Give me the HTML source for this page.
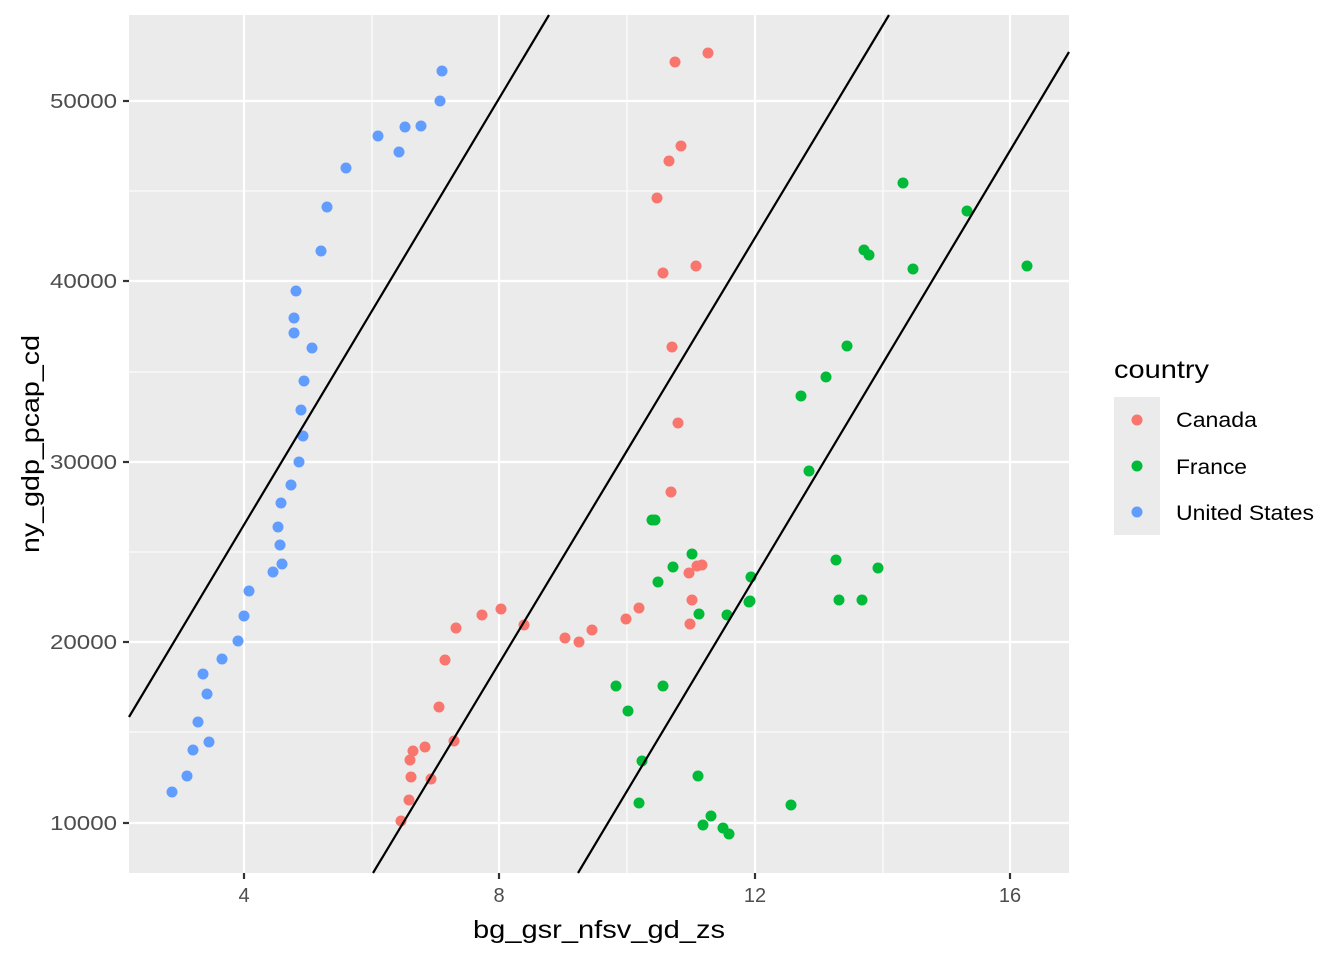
<!DOCTYPE html>
<html><head><style>body{margin:0;background:#fff}svg{display:block;font-family:"Liberation Sans",sans-serif}</style></head><body>
<svg width="1344" height="960" xmlns="http://www.w3.org/2000/svg">
<rect x="129" y="15" width="940" height="858" fill="#ebebeb"/>
<g stroke="#fff" stroke-width="1.1">
<line x1="372" y1="15" x2="372" y2="873"/><line x1="627" y1="15" x2="627" y2="873"/><line x1="883" y1="15" x2="883" y2="873"/>
<line x1="129" y1="732" x2="1069" y2="732"/><line x1="129" y1="552" x2="1069" y2="552"/><line x1="129" y1="372" x2="1069" y2="372"/><line x1="129" y1="191" x2="1069" y2="191"/>
</g>
<g stroke="#fff" stroke-width="2.2">
<line x1="244" y1="15" x2="244" y2="873"/><line x1="499" y1="15" x2="499" y2="873"/><line x1="755" y1="15" x2="755" y2="873"/><line x1="1010" y1="15" x2="1010" y2="873"/>
<line x1="129" y1="823" x2="1069" y2="823"/><line x1="129" y1="642" x2="1069" y2="642"/><line x1="129" y1="462" x2="1069" y2="462"/><line x1="129" y1="281" x2="1069" y2="281"/><line x1="129" y1="101" x2="1069" y2="101"/>
</g>
<g fill="#619cff">
<circle cx="172" cy="792" r="5.5"/><circle cx="187" cy="776" r="5.5"/><circle cx="193" cy="750" r="5.5"/><circle cx="198" cy="722" r="5.5"/><circle cx="209" cy="742" r="5.5"/><circle cx="207" cy="694" r="5.5"/><circle cx="203" cy="674" r="5.5"/><circle cx="222" cy="659" r="5.5"/><circle cx="238" cy="641" r="5.5"/><circle cx="244" cy="616" r="5.5"/><circle cx="249" cy="591" r="5.5"/><circle cx="273" cy="572" r="5.5"/><circle cx="282" cy="564" r="5.5"/><circle cx="280" cy="545" r="5.5"/><circle cx="278" cy="527" r="5.5"/><circle cx="281" cy="503" r="5.5"/><circle cx="291" cy="485" r="5.5"/><circle cx="299" cy="462" r="5.5"/><circle cx="303" cy="436" r="5.5"/><circle cx="301" cy="410" r="5.5"/><circle cx="304" cy="381" r="5.5"/><circle cx="312" cy="348" r="5.5"/><circle cx="294" cy="333" r="5.5"/><circle cx="294" cy="318" r="5.5"/><circle cx="296" cy="291" r="5.5"/><circle cx="321" cy="251" r="5.5"/><circle cx="327" cy="207" r="5.5"/><circle cx="346" cy="168" r="5.5"/><circle cx="378" cy="136" r="5.5"/><circle cx="399" cy="152" r="5.5"/><circle cx="405" cy="127" r="5.5"/><circle cx="421" cy="126" r="5.5"/><circle cx="440" cy="101" r="5.5"/><circle cx="442" cy="71" r="5.5"/>
</g>
<g fill="#f8766d">
<circle cx="401" cy="821" r="5.5"/><circle cx="409" cy="800" r="5.5"/><circle cx="431" cy="779" r="5.5"/><circle cx="411" cy="777" r="5.5"/><circle cx="410" cy="760" r="5.5"/><circle cx="413" cy="751" r="5.5"/><circle cx="425" cy="747" r="5.5"/><circle cx="454" cy="741" r="5.5"/><circle cx="439" cy="707" r="5.5"/><circle cx="445" cy="660" r="5.5"/><circle cx="456" cy="628" r="5.5"/><circle cx="482" cy="615" r="5.5"/><circle cx="501" cy="609" r="5.5"/><circle cx="524" cy="625" r="5.5"/><circle cx="565" cy="638" r="5.5"/><circle cx="579" cy="642" r="5.5"/><circle cx="592" cy="630" r="5.5"/><circle cx="626" cy="619" r="5.5"/><circle cx="639" cy="608" r="5.5"/><circle cx="690" cy="624" r="5.5"/><circle cx="692" cy="600" r="5.5"/><circle cx="689" cy="573" r="5.5"/><circle cx="697" cy="566" r="5.5"/><circle cx="702" cy="565" r="5.5"/><circle cx="671" cy="492" r="5.5"/><circle cx="678" cy="423" r="5.5"/><circle cx="672" cy="347" r="5.5"/><circle cx="663" cy="273" r="5.5"/><circle cx="696" cy="266" r="5.5"/><circle cx="657" cy="198" r="5.5"/><circle cx="669" cy="161" r="5.5"/><circle cx="681" cy="146" r="5.5"/><circle cx="675" cy="62" r="5.5"/><circle cx="708" cy="53" r="5.5"/>
</g>
<g fill="#00ba38">
<circle cx="729" cy="834" r="5.5"/><circle cx="723" cy="828" r="5.5"/><circle cx="703" cy="825" r="5.5"/><circle cx="711" cy="816" r="5.5"/><circle cx="639" cy="803" r="5.5"/><circle cx="698" cy="776" r="5.5"/><circle cx="791" cy="805" r="5.5"/><circle cx="642" cy="761" r="5.5"/><circle cx="628" cy="711" r="5.5"/><circle cx="616" cy="686" r="5.5"/><circle cx="663" cy="686" r="5.5"/><circle cx="699" cy="614" r="5.5"/><circle cx="727" cy="615" r="5.5"/><circle cx="749" cy="602" r="5.5"/><circle cx="750" cy="601" r="5.5"/><circle cx="839" cy="600" r="5.5"/><circle cx="862" cy="600" r="5.5"/><circle cx="751" cy="577" r="5.5"/><circle cx="836" cy="560" r="5.5"/><circle cx="878" cy="568" r="5.5"/><circle cx="692" cy="554" r="5.5"/><circle cx="673" cy="567" r="5.5"/><circle cx="658" cy="582" r="5.5"/><circle cx="652" cy="520" r="5.5"/><circle cx="655" cy="520" r="5.5"/><circle cx="809" cy="471" r="5.5"/><circle cx="801" cy="396" r="5.5"/><circle cx="826" cy="377" r="5.5"/><circle cx="847" cy="346" r="5.5"/><circle cx="864" cy="250" r="5.5"/><circle cx="869" cy="255" r="5.5"/><circle cx="913" cy="269" r="5.5"/><circle cx="903" cy="183" r="5.5"/><circle cx="967" cy="211" r="5.5"/><circle cx="1027" cy="266" r="5.5"/>
</g>
<g stroke="#000" stroke-width="2.2">
<line x1="129" y1="717" x2="549" y2="15"/><line x1="373" y1="873" x2="889" y2="15"/><line x1="578" y1="873" x2="1069" y2="52"/>
</g>
<g stroke="#333" stroke-width="2.2">
<line x1="244" y1="873" x2="244" y2="879"/><line x1="499" y1="873" x2="499" y2="879"/><line x1="755" y1="873" x2="755" y2="879"/><line x1="1010" y1="873" x2="1010" y2="879"/>
<line x1="123" y1="823" x2="129" y2="823"/><line x1="123" y1="642" x2="129" y2="642"/><line x1="123" y1="462" x2="129" y2="462"/><line x1="123" y1="281" x2="129" y2="281"/><line x1="123" y1="101" x2="129" y2="101"/>
</g>
<g fill="#4d4d4d" font-size="20" text-anchor="middle">
<text x="244" y="902">4</text><text x="499" y="902">8</text><text x="755" y="902">12</text><text x="1010" y="902">16</text>
</g>
<g fill="#4d4d4d" font-size="20" text-anchor="end">
<text x="117" y="830" textLength="67" lengthAdjust="spacingAndGlyphs">10000</text><text x="117" y="649" textLength="67" lengthAdjust="spacingAndGlyphs">20000</text><text x="117" y="469" textLength="67" lengthAdjust="spacingAndGlyphs">30000</text><text x="117" y="288" textLength="67" lengthAdjust="spacingAndGlyphs">40000</text><text x="117" y="108" textLength="67" lengthAdjust="spacingAndGlyphs">50000</text>
</g>
<text x="473" y="938" font-size="25" fill="#000" textLength="252" lengthAdjust="spacingAndGlyphs">bg_gsr_nfsv_gd_zs</text>
<text transform="translate(39,553) rotate(-90)" font-size="25" fill="#000" textLength="218" lengthAdjust="spacingAndGlyphs">ny_gdp_pcap_cd</text>
<text x="1114" y="378" font-size="25" fill="#000" textLength="95" lengthAdjust="spacingAndGlyphs">country</text>
<rect x="1114" y="397" width="46" height="138" fill="#ebebeb"/>
<circle cx="1137" cy="420" r="5.5" fill="#f8766d"/><circle cx="1137" cy="466" r="5.5" fill="#00ba38"/><circle cx="1137" cy="512" r="5.5" fill="#619cff"/>
<g font-size="21" fill="#000"><text x="1176" y="427" textLength="81" lengthAdjust="spacingAndGlyphs">Canada</text><text x="1176" y="474" textLength="71" lengthAdjust="spacingAndGlyphs">France</text><text x="1176" y="520" textLength="138" lengthAdjust="spacingAndGlyphs">United States</text></g>
</svg>
</body></html>
